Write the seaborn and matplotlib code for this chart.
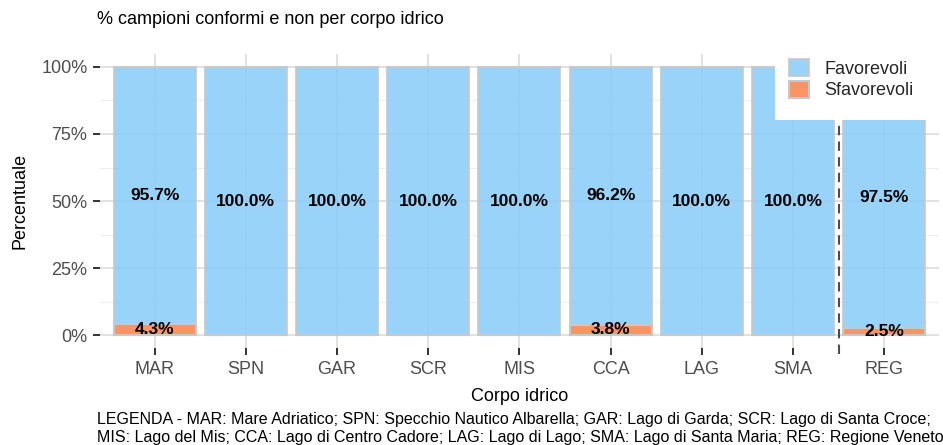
import matplotlib
matplotlib.use("Agg")
import matplotlib.pyplot as plt
import seaborn as sns
import pandas as pd
from matplotlib.patches import Patch, Rectangle
from matplotlib.ticker import MultipleLocator, FuncFormatter

# data
corpi = ['MAR', 'SPN', 'GAR', 'SCR', 'MIS', 'CCA', 'LAG', 'SMA', 'REG']
favorevoli = [95.7, 100.0, 100.0, 100.0, 100.0, 96.2, 100.0, 100.0, 97.5]
sfavorevoli = [4.3, 0.0, 0.0, 0.0, 0.0, 3.8, 0.0, 0.0, 2.5]
legenda = ("LEGENDA - MAR: Mare Adriatico; SPN: Specchio Nautico Albarella; GAR: Lago di Garda; SCR: Lago di Santa Croce;\n"
           "MIS: Lago del Mis; CCA: Lago di Centro Cadore; LAG: Lago di Lago; SMA: Lago di Santa Maria; REG: Regione Veneto")

df = pd.DataFrame({'Corpo': corpi, 'Favorevoli': favorevoli, 'Sfavorevoli': sfavorevoli})
df['Totale'] = df['Favorevoli'] + df['Sfavorevoli']

sns.set_theme(style="whitegrid")
plt.rcParams['font.family'] = ['Liberation Sans', 'DejaVu Sans']

blu = '#88CCFA'      # drawn with alpha so the grid shows through faintly
arancio = '#FA9466'
bordo = '#C8C8C8'

fig = plt.figure(figsize=(9.43, 4.45), dpi=100)
ax = fig.add_axes([0.106, 0.217, 0.8896, 0.6626])

# stacked: total in blue, unfavourable part drawn over it from zero
sns.barplot(data=df, x='Corpo', y='Totale', color=blu, saturation=1, width=0.9, alpha=0.85,
            edgecolor=bordo, linewidth=1.5, ax=ax, zorder=2)
sns.barplot(data=df, x='Corpo', y='Sfavorevoli', color=arancio, saturation=1, width=0.9,
            edgecolor=bordo, linewidth=1.5, ax=ax, zorder=3)
# keep the bar outlines opaque
for p in ax.patches:
    p.set_edgecolor(bordo)

# labels in the middle of each segment
for i, row in df.iterrows():
    ax.text(i, row['Sfavorevoli'] + row['Favorevoli'] / 2, f"{row['Favorevoli']:.1f}%",
            ha='center', va='center', fontsize=12.5, fontweight='bold', color='black', zorder=5)
    if row['Sfavorevoli'] > 0:
        ax.text(i, row['Sfavorevoli'] / 2, f"{row['Sfavorevoli']:.1f}%",
                ha='center', va='center', fontsize=12.5, fontweight='bold', color='black', zorder=5)

# separator between water bodies and the regional total
ax.axvline(len(corpi) - 1.5, ymin=-0.02, color='#4D4D4D', linestyle=(0, (4.5, 3)),
           linewidth=1.5, zorder=4, clip_on=False)

ax.set_xlim(-0.6, len(corpi) - 0.4)
ax.yaxis.set_major_locator(MultipleLocator(25))
ax.yaxis.set_minor_locator(MultipleLocator(12.5))
ax.yaxis.set_major_formatter(FuncFormatter(lambda v, p: f"{v:.0f}%"))
ax.set_ylim(-5, 105)

ax.grid(which='major', color='#DEDEDE', linewidth=1.3)
ax.grid(which='minor', axis='y', color='#EFEFEF', linewidth=0.8)
ax.set_axisbelow(True)
for s in ax.spines.values():
    s.set_visible(False)

ax.tick_params(axis='both', which='major', length=5, width=1.4, color='#333333',
               labelcolor='#4D4D4D', labelsize=13)
ax.tick_params(axis='x', pad=4)
ax.tick_params(axis='y', pad=4)
ax.tick_params(axis='y', which='minor', length=0)
ax.tick_params(axis='x', bottom=True)
ax.tick_params(axis='y', left=True)

ax.set_xlabel('Corpo idrico', fontsize=13, color='black')
ax.set_ylabel('Percentuale', fontsize=13, color='black')
ax.xaxis.set_label_coords(0.5, -0.135)
ax.yaxis.set_label_coords(-0.085, 0.5)

# white box behind the legend, as in the reference
ax.add_patch(Rectangle((775 / 943, 1 - 120 / 445), 168 / 943, 72 / 445, transform=fig.transFigure,
                       facecolor='white', edgecolor='none', zorder=9, clip_on=False))

handles = [Patch(facecolor=blu, alpha=0.85, edgecolor=bordo, linewidth=1.5, label='Favorevoli'),
           Patch(facecolor=arancio, edgecolor=bordo, linewidth=1.5, label='Sfavorevoli')]
leg = ax.legend(handles=handles, loc='upper left', bbox_to_anchor=(789 / 943, 1 - 59 / 445),
                bbox_transform=fig.transFigure, frameon=False,
                fontsize=13, handlelength=1.1, handleheight=1.1, handletextpad=0.85,
                labelspacing=0.15, borderpad=0, borderaxespad=0)
leg.set_zorder(10)

fig.text(97 / 943, 1 - 20 / 445, '% campioni conformi e non per corpo idrico', fontsize=13,
         color='black', ha='left', va='center')
fig.text(97 / 943, 1 - 428.5 / 445, legenda, fontsize=11.5, color='black', ha='left', va='center',
         linespacing=1.2)

fig.savefig('out.png', dpi=100)
